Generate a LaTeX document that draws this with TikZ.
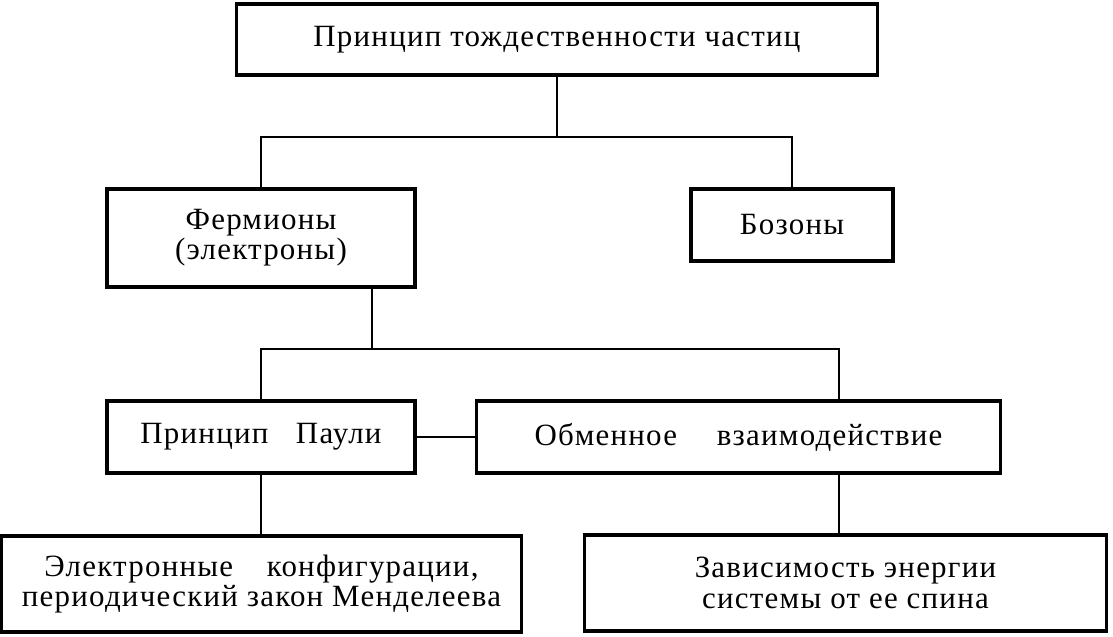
\documentclass[tikz,border=0pt]{standalone}
\usepackage{fontspec}
\newfontfamily\rufont[LetterSpace=4]{Liberation Serif}
\tikzset{
	frame/.style={draw, line width=2.2pt, inner sep=0pt, align=center,
		font=\rufont\fontsize{22}{21.5}\selectfont},
	link/.style={line width=2pt},
}
\begin{document}
\begin{tikzpicture}[x=0.025cm, y=-0.025cm]

\def\BOXH{1.8cm}
	\useasboundingbox (0,0) rectangle (1113,637);
	\node[frame, minimum width=16cm, minimum height=1.775cm] (top) at (557,39.5) {Принцип тождественности частиц};
	\node[frame, minimum width=7.7cm, minimum height=2.45cm] (ferm) at (261,238) {Фермионы\\(электроны)};
	\node[frame, minimum width=5.05cm, minimum height=\BOXH] (bos) at (792,225) {Бозоны};
	\node[frame, minimum width=7.7cm, minimum height=\BOXH] (pauli) at (261,437) {Принцип\hspace{0.6em} Паули};
	\node[frame, minimum width=13.075cm, minimum height=\BOXH] (exch) at (738.5,437) {Обменное\hspace{1em} взаимодействие};
	\node[frame, minimum width=12.975cm, minimum height=2.4cm] (conf) at (261.5,584) {Электронные\hspace{0.8em} конфигурации,\\периодический закон Менделеева};
	\node[frame, minimum width=13.025cm, minimum height=2.4cm] (spin) at (845.5,583) {Зависимость энергии\\системы от ее спина};

	\coordinate (split1) at (557,137);
	\coordinate (split2) at (372,349);
	\coordinate (split3) at (839,349);

	\draw[link] (top.south) -- (split1);
	\draw[link] (ferm.north) |- (split1) -| (bos.north);
	\draw[link] (ferm.south -| split2) -- (split2);
	\draw[link] (pauli.north) |- (split2) -| (exch.north -| split3);
	\draw[link] (pauli.east) -- (exch.west);
	\draw[link] (pauli.south) -- (pauli.south |- conf.north);
	\draw[link] (exch.south -| split3) -- (spin.north -| split3);

\end{tikzpicture}
\end{document}
